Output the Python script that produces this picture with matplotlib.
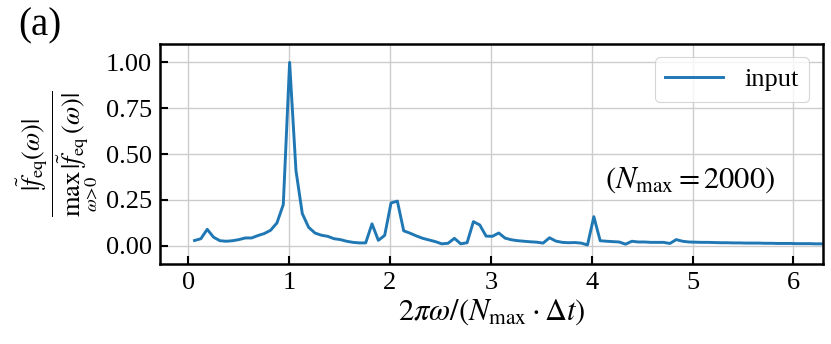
import numpy as np
import matplotlib
matplotlib.use("Agg")
import matplotlib.pyplot as plt

plt.rcParams["font.family"] = ["Liberation Serif", "DejaVu Serif"]
plt.rcParams["mathtext.fontset"] = "stix"

# Frequency grid: 100 bins from 2*pi/100 up to 2*pi
omega = 2 * np.pi * np.arange(1, 101) / 100

# Normalised spectrum magnitude
spectrum = [
    0.028, 0.038, 0.089, 0.046, 0.027, 0.024, 0.027, 0.033, 0.042, 0.042,
    0.055, 0.066, 0.084, 0.124, 0.224, 1.000, 0.410, 0.175, 0.100, 0.069,
    0.057, 0.051, 0.038, 0.033, 0.024, 0.018, 0.015, 0.015, 0.119, 0.029,
    0.056, 0.233, 0.243, 0.081, 0.068, 0.053, 0.040, 0.031, 0.022, 0.010,
    0.013, 0.040, 0.010, 0.016, 0.131, 0.113, 0.052, 0.051, 0.069, 0.041,
    0.032, 0.027, 0.024, 0.021, 0.019, 0.014, 0.043, 0.025, 0.018, 0.016,
    0.017, 0.014, 0.004, 0.158, 0.027, 0.024, 0.022, 0.020, 0.008, 0.024,
    0.020, 0.020, 0.018, 0.018, 0.018, 0.012, 0.033, 0.024, 0.020, 0.019,
    0.018, 0.018, 0.017, 0.016, 0.016, 0.015, 0.015, 0.014, 0.014, 0.014,
    0.013, 0.013, 0.012, 0.012, 0.012, 0.011, 0.011, 0.011, 0.010, 0.010,
]

fig = plt.figure(figsize=(8.31, 3.44), dpi=100)
ax = fig.add_axes([0.1925, 0.2326, 0.7975, 0.6394])

ax.plot(omega, spectrum, color="#1f77b4", lw=2.1, label="input")

ax.set_xlim(-0.28, 6.29)
ax.set_ylim(-0.1, 1.1)
ax.set_xticks([0, 1, 2, 3, 4, 5, 6])
ax.set_yticks([0.0, 0.25, 0.5, 0.75, 1.0])
ax.set_yticklabels(["0.00", "0.25", "0.50", "0.75", "1.00"])
ax.grid(True, color="#cccccc", lw=1.0)
ax.set_axisbelow(True)

ax.tick_params(direction="in", length=6, width=1.5, labelsize=19, pad=6)
for s in ax.spines.values():
    s.set_linewidth(1.8)

ax.set_xlabel(r"$2\pi\omega/(N_{\rm max}\cdot\Delta t)$", fontsize=22, labelpad=2)
ax.set_ylabel(r"$\dfrac{|\tilde{f}_{\rm eq}(\omega)|}"
              r"{\max_{\omega>0}\,|\tilde{f}_{\rm eq}(\omega)|}$",
              fontsize=19, labelpad=4)

ax.text(0.671, 0.38, r"$(N_{\rm max} = 2000)$", transform=ax.transAxes,
        fontsize=22, va="center", ha="left")

leg = ax.legend(loc="upper right", fontsize=19, handlelength=2.2,
                fancybox=True, framealpha=0.8, borderpad=0.4)
leg.get_frame().set_linewidth(0.8)

fig.text(0.022, 0.925, "(a)", fontsize=28, va="center", ha="left")

fig.savefig("out.png", dpi=100)
